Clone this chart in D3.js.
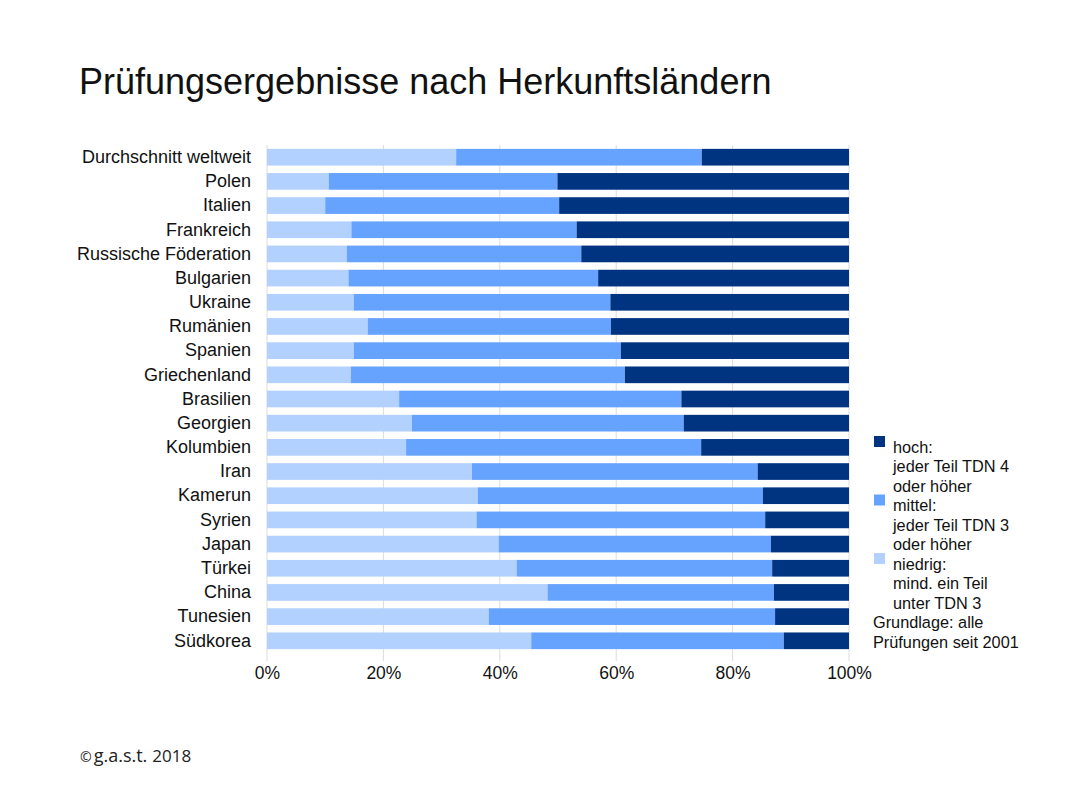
<!DOCTYPE html>
<html><head><meta charset="utf-8">
<script src="https://cdn.jsdelivr.net/npm/d3@7/dist/d3.min.js"></script>
<style>body{margin:0;background:#fff}svg{display:block;font-family:"Liberation Sans",Arial,sans-serif}</style>
</head><body><svg id="c" width="1080" height="810"></svg>
<script>
const categories=["Durchschnitt weltweit","Polen","Italien","Frankreich","Russische Föderation","Bulgarien","Ukraine","Rumänien","Spanien","Griechenland","Brasilien","Georgien","Kolumbien","Iran","Kamerun","Syrien","Japan","Türkei","China","Tunesien","Südkorea"];
const niedrig=[32.5,10.6,10.0,14.5,13.7,14.0,14.9,17.3,14.9,14.4,22.7,24.9,23.9,35.2,36.2,36.0,39.8,42.9,48.2,38.1,45.4];
const mittel=[42.2,39.3,40.2,38.7,40.3,42.9,44.1,41.8,45.9,47.1,48.5,46.7,50.7,49.1,49.0,49.6,46.8,43.9,38.9,49.2,43.4];
const hoch=[25.3,50.1,49.8,46.8,46.0,43.1,41.0,40.9,39.2,38.5,28.8,28.4,25.4,15.7,14.8,14.4,13.4,13.2,12.9,12.7,11.2];
const seriesKeys=["niedrig","mittel","hoch"];
const colors={niedrig:"#b3d1ff",mittel:"#66a3ff",hoch:"#003380"};
const xTicks=[0,20,40,60,80,100];
const legendItems=[{key:"hoch",lines:["hoch:","jeder Teil TDN 4","oder höher"]},{key:"mittel",lines:["mittel:","jeder Teil TDN 3","oder höher"]},{key:"niedrig",lines:["niedrig:","mind. ein Teil","unter TDN 3"]}];
const noteLines=["Grundlage: alle","Prüfungen seit 2001"];

const rows=categories.map((c,i)=>({cat:c,niedrig:niedrig[i],mittel:mittel[i],hoch:hoch[i]}));
const stack=d3.stack().keys(seriesKeys).offset(d3.stackOffsetExpand)(rows);

const svg=d3.select("#c");
const x=d3.scaleLinear().domain([0,1]).range([267,849]);
const y=d3.scaleBand().domain(categories).range([145,653]).paddingInner(0.31).paddingOuter(0.16);

svg.append("text").attr("x",79).attr("y",94).attr("font-size",36).attr("fill","#111").text("Prüfungsergebnisse nach Herkunftsländern");

// gridlines
svg.append("g").selectAll("line").data(xTicks).join("line")
  .attr("x1",d=>x(d/100)).attr("x2",d=>x(d/100)).attr("y1",145).attr("y2",661)
  .attr("stroke","#dcdcdc").attr("stroke-width",1);

svg.append("g").selectAll("g").data(stack).join("g").attr("fill",s=>colors[s.key])
  .selectAll("rect").data(s=>s).join("rect")
  .attr("x",d=>x(d[0])).attr("width",d=>x(d[1])-x(d[0]))
  .attr("y",d=>y(d.data.cat)).attr("height",y.bandwidth());

// y axis labels
const ya=svg.append("g").attr("transform","translate(258,0)").call(d3.axisLeft(y).tickSize(0).tickPadding(7));
ya.select(".domain").remove();
ya.selectAll("text").attr("font-size",18).attr("font-family","Liberation Sans, Arial, sans-serif").attr("fill","#111");

// x axis
const xa=svg.append("g").attr("transform","translate(0,663)").call(d3.axisBottom(x).tickValues(xTicks.map(d=>d/100)).tickFormat(d=>Math.round(d*100)+"%").tickSize(0).tickPadding(4));
xa.select(".domain").remove();
xa.selectAll("text").attr("font-size",17.5).attr("font-family","Liberation Sans, Arial, sans-serif").attr("fill","#111");

// legend
const lg=svg.append("g");
let ly=447, lh=19.5;
legendItems.forEach(it=>{
  lg.append("rect").attr("x",874).attr("y",ly-11).attr("width",11).attr("height",11).attr("fill",colors[it.key]);
  it.lines.forEach((t,j)=>{
    lg.append("text").attr("x",893).attr("y",ly+j*lh).attr("dy","0.35em").attr("font-size",16.3).attr("fill","#111").text(t);
  });
  ly+=it.lines.length*lh;
});
noteLines.forEach((t,j)=>{
  lg.append("text").attr("x",873).attr("y",ly+j*lh).attr("dy","0.35em").attr("font-size",16.3).attr("fill","#111").text(t);
});

// footer
const f=svg.append("text").attr("x",80).attr("y",762).attr("fill","#222").attr("font-family","Open Sans, sans-serif");
f.append("tspan").attr("font-size",14).text("©");
f.append("tspan").attr("font-size",18).attr("dx",2).text("g.a.s.t.");
f.append("tspan").attr("font-size",17).attr("dx",5).text("2018");
</script></body></html>
